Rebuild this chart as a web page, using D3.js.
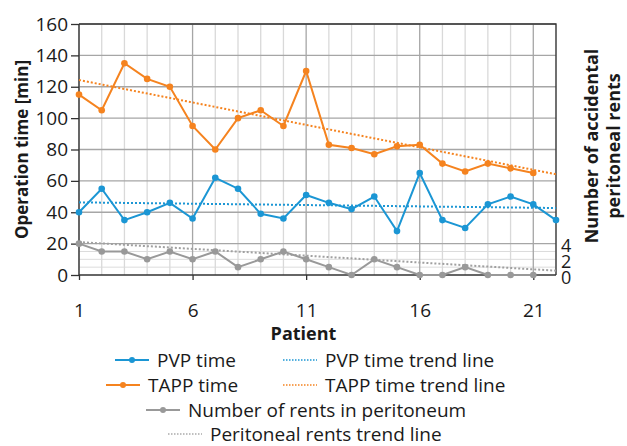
<!DOCTYPE html>
<meta charset="utf-8">
<style>
body { margin: 0; background: #fff; }
text { font-family: "Open Sans", sans-serif; fill: #1a1a1a; }
.series { fill: none; stroke-width: 2; }
.trend { fill: none; stroke-width: 2; stroke-dasharray: 2,2; }
</style>
<body>
<script src="https://cdn.jsdelivr.net/npm/d3@7"></script>
<script>

// patients and series
var patients = d3.range(1, 23);
var pvpTime  = [40, 55, 35, 40, 46, 36, 62, 55, 39, 36, 51, 46, 42, 50, 28, 65, 35, 30, 45, 50, 45, 35];
var tappTime = [115, 105, 135, 125, 120, 95, 80, 100, 105, 95, 130, 83, 81, 77, 82, 83, 71, 66, 71, 68, 65];
var rents    = [4, 3, 3, 2, 3, 2, 3, 1, 2, 3, 2, 1, 0, 2, 1, 0, 0, 1, 0, 0, 0];

// trend lines as [start, end] at patient 1 and 22
var pvpTrend  = [46.3, 42.7];
var tappTrend = [124.3, 64.2];
var rentTrend = [4.2, 0.55];

var xTicks = [1, 6, 11, 16, 21];
var yTicks = [0, 20, 40, 60, 80, 100, 120, 140, 160];
var rTicks = [0, 2, 4];

var blue = "#1b96d4", orange = "#f5831f", gray = "#999999";

var W = 627, H = 446;
var m = {left: 79, right: 556, top: 24, bottom: 275};

var x = d3.scaleLinear().domain([1, 22]).range([m.left, m.right]);
var y = d3.scaleLinear().domain([0, 160]).range([m.bottom, m.top]);
var yr = d3.scaleLinear().domain([0, 32]).range([m.bottom, m.top]);

var svg = d3.select("body").append("svg")
    .attr("width", W).attr("height", H);

// grid: minor right-axis lines
svg.append("g").selectAll("line")
    .data([1, 2, 3]).enter().append("line")
    .attr("x1", m.left).attr("x2", m.right)
    .attr("y1", yr).attr("y2", yr)
    .attr("stroke", "#dcdcdc").attr("stroke-width", 1);

// vertical grid
svg.append("g").selectAll("line")
    .data(patients).enter().append("line")
    .attr("x1", x).attr("x2", x)
    .attr("y1", m.top).attr("y2", m.bottom)
    .attr("stroke", function(d) { return xTicks.indexOf(d) >= 0 ? "#a6a6a6" : "#d9d9d9"; })
    .attr("stroke-width", 1.3);

// horizontal grid
svg.append("g").selectAll("line")
    .data(yTicks.slice(1)).enter().append("line")
    .attr("x1", m.left).attr("x2", m.right)
    .attr("y1", y).attr("y2", y)
    .attr("stroke", "#a6a6a6").attr("stroke-width", 1.3);

// frame top + right
svg.append("path")
    .attr("d", "M" + m.left + "," + m.top + "H" + m.right + "V" + m.bottom)
    .attr("fill", "none").attr("stroke", "#333").attr("stroke-width", 1.3);

// axes
var yAxis = svg.append("g")
    .attr("transform", "translate(" + m.left + ",0)")
    .call(d3.axisLeft(y).tickValues(yTicks).tickSize(8).tickPadding(3));
var xAxis = svg.append("g")
    .attr("transform", "translate(0," + m.bottom + ")")
    .call(d3.axisBottom(x).tickValues(xTicks).tickSize(5).tickPadding(24));
var rAxis = svg.append("g")
    .attr("transform", "translate(" + m.right + ",0)")
    .call(d3.axisRight(yr).tickValues(rTicks).tickSize(0).tickPadding(5));

[yAxis, xAxis, rAxis].forEach(function(a) {
  a.selectAll("text").style("font-size", "19px").attr("fill", "#1a1a1a");
  a.selectAll(".domain").attr("stroke", "#333").attr("stroke-width", 1.3);
  a.selectAll(".tick line").attr("stroke", "#333").attr("stroke-width", 1.3);
});
xAxis.select(".domain").attr("d", "M" + m.left + ",0H" + m.right);
yAxis.select(".domain").attr("d", "M0," + m.bottom + "V" + m.top);
rAxis.select(".domain").remove();
rAxis.selectAll(".tick text").attr("dy", "0.45em").style("font-size", "18px");

// trend lines
function trend(vals, scale, color) {
  svg.append("line")
    .attr("class", "trend")
    .attr("x1", x(1)).attr("x2", x(22))
    .attr("y1", scale(vals[0])).attr("y2", scale(vals[1]))
    .attr("stroke", color);
}
trend(pvpTrend, y, blue);
trend(tappTrend, y, orange);
trend(rentTrend, yr, "#a0a0a0");

// series lines
function series(vals, scale, color) {
  var line = d3.line()
    .x(function(d, i) { return x(i + 1); })
    .y(function(d) { return scale(d); });
  svg.append("path").datum(vals)
    .attr("class", "series")
    .attr("stroke", color)
    .attr("d", line);
  svg.append("g").selectAll("circle")
    .data(vals).enter().append("circle")
    .attr("cx", function(d, i) { return x(i + 1); })
    .attr("cy", function(d) { return scale(d); })
    .attr("r", 3.3)
    .attr("fill", color);
}
series(rents, yr, gray);
series(pvpTime, y, blue);
series(tappTime, y, orange);

// axis titles
svg.append("text")
    .attr("transform", "translate(28," + (m.top + m.bottom) / 2 + ") rotate(-90)")
    .attr("text-anchor", "middle")
    .style("font-size", "17px").style("font-weight", "bold")
    .text("Operation time [min]");

svg.append("text")
    .attr("transform", "translate(598,146) rotate(-90)")
    .attr("text-anchor", "middle")
    .style("font-size", "18px").style("font-weight", "bold")
    .text("Number of accidental");
svg.append("text")
    .attr("transform", "translate(620,146) rotate(-90)")
    .attr("text-anchor", "middle")
    .style("font-size", "18px").style("font-weight", "bold")
    .text("peritoneal rents");

svg.append("text")
    .attr("x", (m.left + m.right) / 2 - 14).attr("y", 340)
    .attr("text-anchor", "middle")
    .style("font-size", "18px").style("font-weight", "bold")
    .text("Patient");

// legend
var legend = [
  {label: "PVP time", color: blue, x: 115, y: 360, dotted: false},
  {label: "PVP time trend line", color: blue, x: 283, y: 360, dotted: true},
  {label: "TAPP time", color: orange, x: 106, y: 385, dotted: false},
  {label: "TAPP time trend line", color: orange, x: 283, y: 385, dotted: true},
  {label: "Number of rents in peritoneum", color: gray, x: 146, y: 410, dotted: false},
  {label: "Peritoneal rents trend line", color: "#aaaaaa", x: 168, y: 434, dotted: true}
];
var lg = svg.append("g").selectAll("g").data(legend).enter().append("g")
    .attr("transform", function(d) { return "translate(" + d.x + "," + d.y + ")"; });
lg.append("line")
    .attr("x1", 0).attr("x2", 34).attr("y1", 0).attr("y2", 0)
    .attr("stroke", function(d) { return d.color; })
    .attr("stroke-width", function(d) { return d.dotted ? 1.5 : 2; })
    .attr("stroke-dasharray", function(d) { return d.dotted ? "1.5,1.5" : null; });
lg.filter(function(d) { return !d.dotted; }).append("circle")
    .attr("cx", 17).attr("r", 3)
    .attr("fill", function(d) { return d.color; });
lg.append("text")
    .attr("x", 42).attr("dy", "0.35em")
    .style("font-size", "19px")
    .text(function(d) { return d.label; });

</script>
</body>
